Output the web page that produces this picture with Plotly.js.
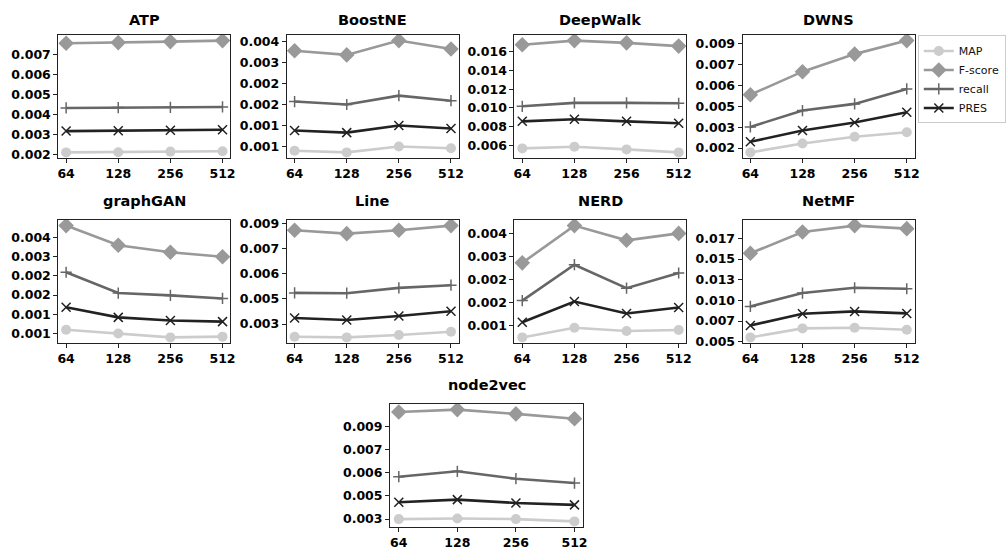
<!DOCTYPE html>
<html>
<head>
<meta charset="utf-8">
<script src="https://cdn.plot.ly/plotly-3.0.1.min.js"></script>
<style>html,body{margin:0;padding:0;background:#fff;}#chart{width:1006px;height:554px;}</style>
</head>
<body>
<div id="chart"></div>
<script>
// ---- data ----
const dims = ['64', '128', '256', '512'];
const methods = ['ATP', 'BoostNE', 'DeepWalk', 'DWNS', 'graphGAN', 'Line', 'NERD', 'NetMF', 'node2vec'];
const seriesNames = ['MAP', 'F-score', 'recall', 'PRES'];

const mapVals = [
  [0.00212, 0.00213, 0.00216, 0.00218],
  [0.00090, 0.00086, 0.00100, 0.00096],
  [0.00568, 0.00586, 0.00557, 0.00525],
  [0.00119, 0.00183, 0.00231, 0.00264],
  [0.00110, 0.00100, 0.00090, 0.00092],
  [0.00224, 0.00220, 0.00234, 0.00254],
  [0.00124, 0.00145, 0.00138, 0.00140],
  [0.00553, 0.00662, 0.00670, 0.00646],
  [0.00300, 0.00304, 0.00300, 0.00285]
];
const fscoreVals = [
  [0.00755, 0.00758, 0.00763, 0.00768],
  [0.00328, 0.00318, 0.00352, 0.00332],
  [0.01675, 0.01720, 0.01696, 0.01661],
  [0.00533, 0.00698, 0.00824, 0.00921],
  [0.00380, 0.00329, 0.00311, 0.00299],
  [0.00860, 0.00840, 0.00860, 0.00888],
  [0.00286, 0.00367, 0.00335, 0.00350],
  [0.01569, 0.01827, 0.01904, 0.01867],
  [0.00992, 0.01008, 0.00980, 0.00949]
];
const recallVals = [
  [0.00433, 0.00435, 0.00436, 0.00438],
  [0.00207, 0.00200, 0.00221, 0.00209],
  [0.01018, 0.01054, 0.01054, 0.01050],
  [0.00302, 0.00419, 0.00467, 0.00574],
  [0.00259, 0.00205, 0.00199, 0.00191],
  [0.00486, 0.00484, 0.00516, 0.00532],
  [0.00204, 0.00282, 0.00231, 0.00264],
  [0.00927, 0.01089, 0.01153, 0.01141],
  [0.00574, 0.00609, 0.00561, 0.00533]
];
const presVals = [
  [0.00318, 0.00320, 0.00322, 0.00325],
  [0.00138, 0.00133, 0.00150, 0.00143],
  [0.00857, 0.00879, 0.00857, 0.00836],
  [0.00195, 0.00276, 0.00333, 0.00407],
  [0.00168, 0.00142, 0.00134, 0.00131],
  [0.00336, 0.00324, 0.00348, 0.00376],
  [0.00157, 0.00202, 0.00176, 0.00189],
  [0.00697, 0.00839, 0.00867, 0.00843],
  [0.00409, 0.00426, 0.00404, 0.00392]
];

// y tick positions and the (3-decimal rounded) labels shown in the figure
const yTickVals = [
  [0.002, 0.003, 0.004, 0.005, 0.006, 0.007],
  [0.0010, 0.0015, 0.0020, 0.0025, 0.0030, 0.0035],
  [0.006, 0.008, 0.010, 0.012, 0.014, 0.016],
  [0.0015, 0.0030, 0.0045, 0.0060, 0.0075, 0.0090],
  [0.0010, 0.0015, 0.0020, 0.0025, 0.0030, 0.0035],
  [0.0030, 0.0045, 0.0060, 0.0075, 0.0090],
  [0.0015, 0.0020, 0.0025, 0.0030, 0.0035],
  [0.0050, 0.0075, 0.0100, 0.0125, 0.0150, 0.0175],
  [0.0030, 0.0045, 0.0060, 0.0075, 0.0090]
];
const yTickText = [
  ['0.002', '0.003', '0.004', '0.005', '0.006', '0.007'],
  ['0.001', '0.001', '0.002', '0.002', '0.003', '0.004'],
  ['0.006', '0.008', '0.010', '0.012', '0.014', '0.016'],
  ['0.002', '0.003', '0.005', '0.006', '0.007', '0.009'],
  ['0.001', '0.001', '0.002', '0.002', '0.003', '0.004'],
  ['0.003', '0.005', '0.006', '0.007', '0.009'],
  ['0.001', '0.002', '0.002', '0.003', '0.004'],
  ['0.005', '0.007', '0.010', '0.013', '0.015', '0.017'],
  ['0.003', '0.005', '0.006', '0.007', '0.009']
];

// ---- styling ----
const W = 1006, H = 554;
const colors = ['#cccccc', '#999999', '#666666', '#222222'];
const symbols = ['circle', 'diamond', 'cross-thin', 'x-thin'];
const msizes = [10, 12, 8, 9];
// panel boxes in pixels: [left, right, top, bottom]
const boxes = [
  [59.3, 234.3, 35, 158], [291.7, 466.7, 35, 158], [523.3, 698.3, 35, 158], [755.3, 930.3, 35, 158],
  [59.3, 234.3, 220, 343], [291.7, 466.7, 220, 343], [523.3, 698.3, 220, 343], [755.3, 930.3, 220, 343],
  [396.7, 593.3, 404, 527]
];

const allSeries = [mapVals, fscoreVals, recallVals, presVals];
const traces = [];
const layout = {
  width: W, height: H,
  margin: {l: 0, r: 0, t: 0, b: 0},
  paper_bgcolor: '#fff', plot_bgcolor: '#fff',
  showlegend: true,
  legend: {
    x: 0.928, y: 0.936, xanchor: 'left', yanchor: 'top',
    bgcolor: '#fff', bordercolor: '#cccccc', borderwidth: 1,
    font: {family: 'DejaVu Sans', size: 11, color: '#111'},
    itemwidth: 30, tracegroupgap: 0
  },
  annotations: []
};

const tickFont = {family: 'DejaVu Sans', size: 12.5, weight: 'bold', color: '#000'};

methods.forEach((m, i) => {
  const k = i + 1;
  const xa = k === 1 ? 'x' : 'x' + k;
  const ya = k === 1 ? 'y' : 'y' + k;
  const b = boxes[i];
  let lo = Infinity, hi = -Infinity;
  allSeries.forEach(s => s[i].forEach(v => { lo = Math.min(lo, v); hi = Math.max(hi, v); }));
  const pad = (hi - lo) * 0.05;

  allSeries.forEach((s, j) => {
    traces.push({
      x: dims, y: s[i], xaxis: xa, yaxis: ya,
      type: 'scatter', mode: 'lines+markers',
      name: seriesNames[j], showlegend: i === 0,
      line: {color: colors[j], width: 2.6},
      marker: {symbol: symbols[j], size: msizes[j], color: colors[j],
               line: {color: colors[j], width: (j >= 2 ? 1.5 : 0)}},
      hoverinfo: 'x+y+name'
    });
  });

  const common = {
    showline: true, mirror: true, linecolor: '#222', linewidth: 1,
    showgrid: false, zeroline: false,
    ticks: 'outside', ticklen: 4, tickwidth: 1, tickcolor: '#222',
    tickfont: tickFont
  };
  layout['xaxis' + (k === 1 ? '' : k)] = Object.assign({}, common, {
    domain: [b[0] / W, b[1] / W], anchor: ya,
    type: 'category', range: [-0.15, 3.15],
    tickvals: dims, ticktext: dims
  });
  layout['yaxis' + (k === 1 ? '' : k)] = Object.assign({}, common, {
    domain: [(H - b[3]) / H, (H - b[2]) / H], anchor: xa,
    range: [lo - pad, hi + pad],
    tickmode: 'array', tickvals: yTickVals[i], ticktext: yTickText[i]
  });
  layout.annotations.push({
    text: m, xref: 'paper', yref: 'paper',
    x: (b[0] + b[1]) / 2 / W, y: (H - b[2]) / H,
    xanchor: 'center', yanchor: 'bottom', yshift: i < 4 ? 5 : 9, showarrow: false,
    font: {family: 'DejaVu Sans', size: 14.5, weight: 'bold', color: '#000'}
  });
});

Plotly.newPlot('chart', traces, layout, {displayModeBar: false, staticPlot: true});
</script>
</body>
</html>
